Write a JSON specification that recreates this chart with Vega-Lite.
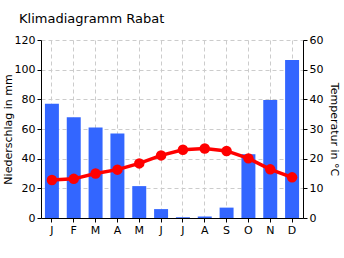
{
  "$schema": "https://vega.github.io/schema/vega-lite/v6.json",
  "autosize": {"type": "none"},
  "padding": {"left": 41, "top": 40, "right": 41, "bottom": 40},
  "width": 262,
  "height": 178,
  "background": "white",
  "title": {"text": "Klimadiagramm Rabat", "anchor": "start", "frame": "group", "dx": -22, "offset": 8, "font": "DejaVu Sans", "fontSize": 13, "fontWeight": "normal", "color": "black"},
  "config": {
    "view": {"stroke": null},
    "axis": {"labelFont": "DejaVu Sans", "labelFontSize": 11, "labelColor": "black", "titleFont": "DejaVu Sans", "titleFontSize": 11, "titleFontWeight": "normal", "titleColor": "black", "domainColor": "black", "tickColor": "black", "tickSize": 4, "labelPadding": 2, "gridColor": "#cccccc", "gridDash": [4, 3], "gridWidth": 1}
  },
  "data": {"values": [
    {"m": "J", "p": 77, "t": 12.8},
    {"m": "F", "p": 68, "t": 13.2},
    {"m": "M", "p": 61, "t": 15.0},
    {"m": "A", "p": 57, "t": 16.3},
    {"m": "M ", "p": 21.5, "t": 18.4},
    {"m": "J ", "p": 6, "t": 21.1},
    {"m": "J  ", "p": 0.5, "t": 23.0},
    {"m": "A ", "p": 1, "t": 23.4},
    {"m": "S", "p": 7, "t": 22.6},
    {"m": "O", "p": 43, "t": 20.1},
    {"m": "N", "p": 79.5, "t": 16.4},
    {"m": "D", "p": 106.5, "t": 13.7}
  ]},
  "encoding": {
    "x": {"field": "m", "type": "ordinal", "sort": null, "title": null,
      "scale": {"paddingInner": 0.36, "paddingOuter": 0.18},
      "axis": {"labelAngle": 0, "grid": true, "bandPosition": 0.5, "domain": true}}
  },
  "layer": [
    {
      "mark": {"type": "bar", "color": "#3366ff"},
      "encoding": {
        "y": {"field": "p", "type": "quantitative", "title": "Niederschlag in mm",
          "scale": {"domain": [0, 120], "nice": false},
          "axis": {"orient": "left", "values": [0, 20, 40, 60, 80, 100, 120], "grid": true, "titlePadding": 1}}
      }
    },
    {
      "layer": [
        {"mark": {"type": "line", "color": "#ff0000", "strokeWidth": 3.5}, "encoding": {}},
        {"mark": {"type": "point", "filled": true, "color": "#ff0000", "size": 110, "opacity": 1}, "encoding": {}}
      ],
      "encoding": {
        "y": {"field": "t", "type": "quantitative", "title": "Temperatur in °C",
          "scale": {"domain": [0, 60], "nice": false},
          "axis": {"orient": "right", "values": [0, 10, 20, 30, 40, 50, 60], "grid": false, "titlePadding": 6}}
      }
    }
  ],
  "resolve": {"scale": {"y": "independent"}}
}
